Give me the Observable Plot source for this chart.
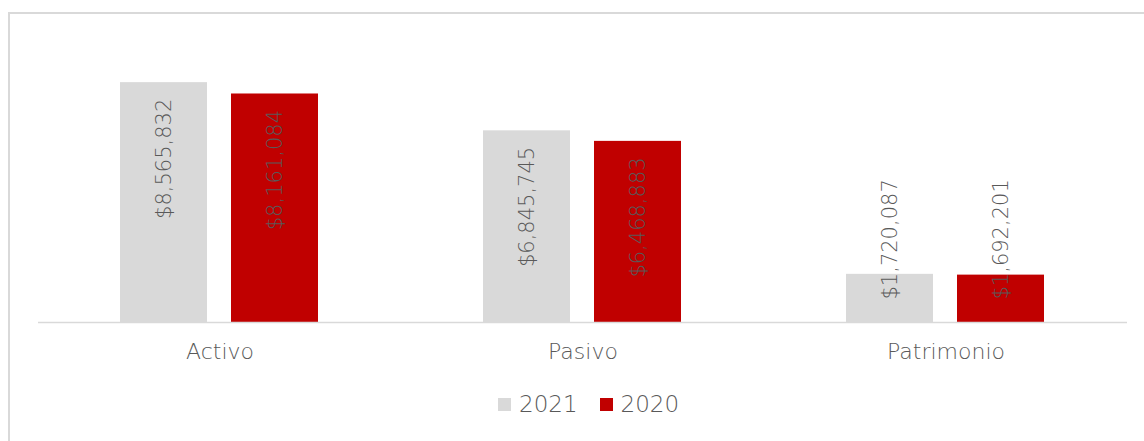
<!DOCTYPE html>
<html>
<head>
<meta charset="utf-8">
<script src="https://cdn.jsdelivr.net/npm/d3@7"></script>
<script src="https://cdn.jsdelivr.net/npm/@observablehq/plot@0.6"></script>
<style>
  html, body { margin: 0; padding: 0; background: #fff; overflow: hidden; width: 1144px; height: 441px; }
  #frame { position: absolute; left: 8px; top: 12px; width: 2000px; height: 2000px; border: 2px solid #d9d9d9; box-sizing: border-box; }
  #chart { position: absolute; left: 0; top: 0; }
  #legend { position: absolute; left: 498px; top: 391px; display: flex; align-items: center; font-family: "DejaVu Sans", sans-serif; font-weight: 300; font-size: 23px; color: #595959; }
  .sw { width: 13px; height: 13px; display: inline-block; margin-right: 8px; }
  .item { display: flex; align-items: center; margin-right: 22px; }
</style>
</head>
<body>
<div id="frame"></div>
<div id="chart"></div>
<div id="legend"></div>
<script>
const categories = ["Activo", "Pasivo", "Patrimonio"];
const years = ["2021", "2020"];
const values2021 = [8565832, 6845745, 1720087];
const values2020 = [8161084, 6468883, 1692201];
const colors = ["#d9d9d9", "#c00000"];

const data = categories.flatMap((c, i) => [
  {cat: c, year: years[0], value: values2021[i]},
  {cat: c, year: years[1], value: values2020[i]}
]);
const fmt = v => "$" + d3.format(",")(v);
const font = "'DejaVu Sans', sans-serif";

const plot = Plot.plot({
  width: 1144,
  height: 380,
  marginLeft: 38,
  marginRight: 17,
  marginTop: 42,
  marginBottom: 58,
  style: {fontFamily: font, background: "transparent"},
  fx: {domain: categories, padding: 0, label: null, axis: null},
  x: {domain: years, paddingInner: 0.214, paddingOuter: 0.728, axis: null},
  y: {domain: [0, 10e6], axis: null},
  color: {domain: years, range: colors},
  marks: [
    Plot.barY(data, {fx: "cat", x: "year", y: "value", fill: "year"}),
    Plot.ruleY([0], {stroke: "#d9d9d9", strokeWidth: 1.5}),
    Plot.text(data.filter(d => d.value > 3e6), {
      fx: "cat", x: "year", y: "value", text: d => fmt(d.value),
      rotate: -90, textAnchor: "end", dy: 16, fontSize: 21, fill: "#595959", fontWeight: 300
    }),
    Plot.text(data.filter(d => d.value <= 3e6), {
      fx: "cat", x: "year", y: () => 0, text: d => fmt(d.value),
      rotate: -90, textAnchor: "start", dy: -23, fontSize: 21, fill: "#595959", fontWeight: 300
    }),
    Plot.axisFx({anchor: "bottom", tickSize: 0, tickPadding: 21, fontSize: 22, label: null, color: "#595959", fontWeight: 300})
  ]
});
document.getElementById("chart").appendChild(plot);

const legend = document.getElementById("legend");
years.forEach((y, i) => {
  const item = document.createElement("span");
  item.className = "item";
  const sw = document.createElement("span");
  sw.className = "sw";
  sw.style.background = colors[i];
  item.appendChild(sw);
  item.appendChild(document.createTextNode(y));
  legend.appendChild(item);
});
</script>
</body>
</html>
